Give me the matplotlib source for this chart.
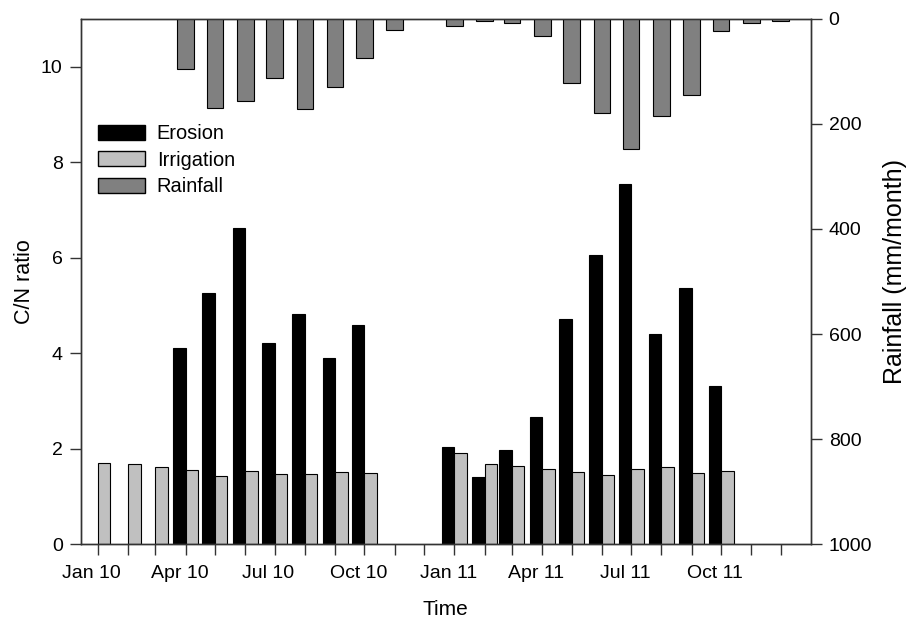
import datetime as dt

import matplotlib

matplotlib.use("Agg")
import matplotlib.dates as mdates
import matplotlib.pyplot as plt
import matplotlib.transforms as mtransforms
import numpy as np
from matplotlib.patches import Patch

plt.rcParams["font.family"] = ["Liberation Sans", "DejaVu Sans"]

# monthly values, Jan 2010 .. Dec 2011 (nan = no sample)
MONTHS = [dt.date(2010 + i // 12, i % 12 + 1, 1) for i in range(24)]
EROSION = [np.nan, np.nan, np.nan, 4.10, 5.25, 6.63, 4.22, 4.83, 3.90, 4.58, np.nan, np.nan,
           2.04, 1.40, 1.98, 2.66, 4.72, 6.05, 7.55, 4.41, 5.37, 3.31, np.nan, np.nan]
IRRIGATION = [1.71, 1.69, 1.62, 1.55, 1.42, 1.54, 1.48, 1.47, 1.51, 1.50, np.nan, np.nan,
              1.91, 1.69, 1.63, 1.57, 1.51, 1.46, 1.58, 1.61, 1.50, 1.53, np.nan, np.nan]
RAINFALL = [np.nan, np.nan, np.nan, 95, 169, 157, 112, 171, 130, 75, 22, np.nan,
            14, 4, 8, 32, 122, 180, 248, 186, 145, 23, 8, 4]
TICK_LABELS = ["Jan 10", "", "", "Apr 10", "", "", "Jul 10", "", "", "Oct 10", "", "",
               "Jan 11", "", "", "Apr 11", "", "", "Jul 11", "", "", "Oct 11", "", ""]

SPINE = "#333333"

x = mdates.date2num(MONTHS)

fig = plt.figure(figsize=(9.06, 6.18), dpi=100)
ax = fig.add_axes([0.0891, 0.1193, 0.8057, 0.8504])
ax2 = ax.twinx()

ax.bar(x, EROSION, width=-12.8, align="edge", color="black", edgecolor="black", linewidth=0.8)
ax.bar(x, IRRIGATION, width=12.8, align="edge", color="#c0c0c0", edgecolor="black", linewidth=0.8)
ax2.bar(x, RAINFALL, width=17, color="#808080", edgecolor="black", linewidth=0.8)

ax.set_xlim(mdates.date2num(dt.date(2010, 1, 1)) - 17.4, mdates.date2num(dt.date(2012, 1, 1)) - 0.2)
ax.set_ylim(0, 11)
ax2.set_ylim(1000, 0)

ax.set_xticks(x)
ax.set_xticklabels(TICK_LABELS)
ax.set_yticks([0, 2, 4, 6, 8, 10])
ax2.set_yticks([0, 200, 400, 600, 800, 1000])

for a in (ax, ax2):
    a.tick_params(direction="out", length=8, width=1, color=SPINE, labelsize=14, pad=5)
    for sp in a.spines.values():
        sp.set_color(SPINE)
        sp.set_linewidth(1)
ax.tick_params(axis="x", pad=7)

# labels sit a little left of their ticks in the original
offset = mtransforms.ScaledTranslation(-6 / 100, 0, fig.dpi_scale_trans)
for lab in ax.get_xticklabels():
    lab.set_transform(lab.get_transform() + offset)

ax.set_xlabel("Time", fontsize=15, labelpad=13)
ax.set_ylabel("C/N ratio", fontsize=15.5, labelpad=4)
ax2.set_ylabel("Rainfall (mm/month)", fontsize=18)
ax2.yaxis.set_label_coords(1.099, 0.519)

handles = [
    Patch(facecolor="black", edgecolor="black", label="Erosion"),
    Patch(facecolor="#c0c0c0", edgecolor="black", label="Irrigation"),
    Patch(facecolor="#808080", edgecolor="black", label="Rainfall"),
]
ax2.legend(handles=handles, loc="upper left", bbox_to_anchor=(0.024, 0.799), frameon=False,
           fontsize=14.4, handlelength=2.35, handleheight=0.78, handletextpad=0.58,
           labelspacing=0.37, borderpad=0, borderaxespad=0)

fig.savefig("out.png", dpi=100)
